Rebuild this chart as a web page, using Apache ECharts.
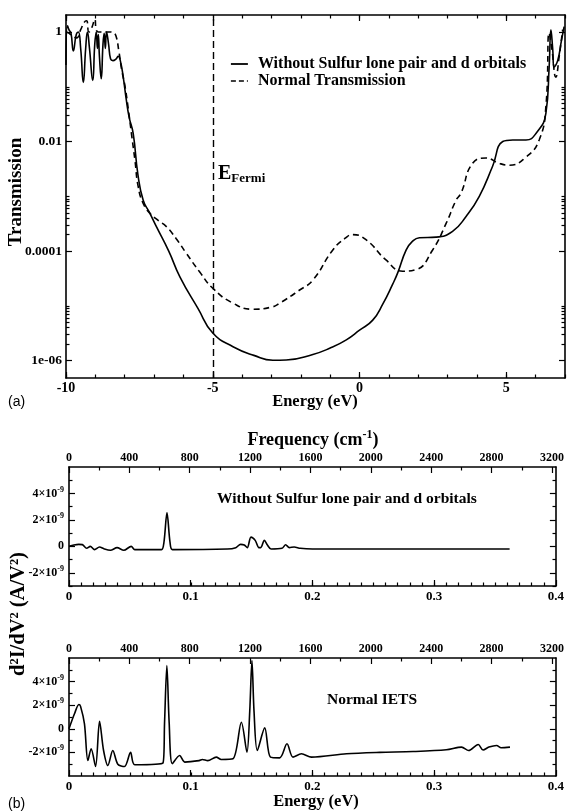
<!DOCTYPE html>
<html><head><meta charset="utf-8">
<script src="https://cdn.jsdelivr.net/npm/echarts@6/dist/echarts.min.js"></script>
<style>html,body{margin:0;padding:0;background:#fff}#c{width:567px;height:811px}</style>
</head><body><div id="c"></div>
<script>
// ---------- Panel (a): transmission vs energy ----------
const energyNoS = [-10.00,-9.95,-9.90,-9.83,-9.75,-9.65,-9.58,-9.50,-9.41,-9.33,-9.27,-9.20,-9.09,-9.02,-8.97,-8.93,-8.90,-8.86,-8.80,-8.74,-8.70,-8.66,-8.62,-8.55,-8.48,-8.40,-8.30,-8.22,-8.15,-8.05,-7.95,-7.85,-7.71,-7.55,-7.37,-7.15,-6.92,-6.50,-6.12,-5.50,-5.00,-4.31,-3.60,-2.95,-2.50,-1.59,-1.00,-0.45,0.00,0.45,0.80,1.13,1.30,1.59,1.80,2.04,2.61,3.17,3.63,4.08,4.53,4.88,5.22,5.67,6.01,6.35,6.46,6.52,6.58,6.63,6.75,6.88,6.97];
const transNoS = [0.25,1.3,1.1,0.95,0.45,0.9,1.0,0.5,0.12,0.5,1.0,0.5,0.13,0.6,1.0,0.5,0.9,0.35,0.14,0.6,0.95,0.5,1.0,0.6,0.32,0.30,0.32,0.36,0.30,0.15,0.06,0.028,0.014,2.5e-3,8.5e-4,5.0e-4,2.8e-4,1.0e-4,3.4e-5,8.9e-6,3.2e-6,1.8e-6,1.25e-6,1.02e-6,1.03e-6,1.3e-6,1.7e-6,2.4e-6,3.6e-6,5.5e-6,1.1e-5,2.5e-5,4.0e-5,1.05e-4,1.5e-4,1.75e-4,1.8e-4,2.3e-4,4.3e-4,1.0e-3,3.5e-3,0.010,0.0107,0.0107,0.014,0.033,0.23,1.1,0.5,0.23,0.3,0.7,1.25];
const energyNormal = [-10.00,-9.90,-9.80,-9.64,-9.50,-9.38,-9.30,-9.22,-9.12,-9.02,-8.97,-8.90,-8.50,-8.40,-8.30,-8.20,-8.10,-8.00,-7.88,-7.77,-7.65,-7.54,-7.37,-7.14,-6.85,-6.58,-6.25,-5.90,-5.45,-5.00,-4.31,-3.63,-3.00,-2.72,-2.04,-1.59,-0.91,-0.50,-0.23,0.23,0.90,1.47,1.93,2.49,2.95,3.29,3.46,3.85,4.31,4.76,5.10,5.67,6.12,6.35,6.46,6.55,6.69,6.80,6.92];
const transNormal = [1.0,0.95,0.85,0.78,1.1,1.5,1.6,1.0,1.2,1.7,1.1,1.0,1.0,0.98,0.85,0.45,0.2,0.11,0.04,0.014,4.5e-3,1.5e-3,7.4e-4,4.9e-4,3.6e-4,2.8e-4,1.7e-4,9.1e-5,4.2e-5,2.1e-5,1.12e-5,8.7e-6,9.5e-6,1.12e-5,1.95e-5,2.95e-5,1.05e-4,1.7e-4,2.0e-4,1.6e-4,6.9e-5,4.3e-5,4.6e-5,1.05e-4,3.2e-4,8.5e-4,1.15e-3,4.0e-3,5.0e-3,4.0e-3,3.7e-3,5.2e-3,0.0107,0.044,0.95,0.5,0.15,0.35,1.1];
const fermiEnergy = -5;
const energyTicksA = [-10,-5,0,5];
const transTicks = [1e-6,1e-4,1e-2,1];
const transTickLabels = {'-6':'1e-06','-4':'0.0001','-2':'0.01','0':'1'};

// ---------- Panel (b): IETS, values in units of 1e-9 A/V^2 ----------
const ietsEnergyNoS = [0,0.004,0.008,0.011,0.0145,0.0175,0.021,0.025,0.029,0.034,0.0395,0.045,0.0511,0.054,0.058,0.065,0.076,0.078,0.0805,0.083,0.085,0.13,0.137,0.141,0.144,0.1465,0.1495,0.153,0.156,0.1575,0.1605,0.163,0.166,0.175,0.178,0.181,0.185,0.19,0.2,0.362];
const ietsNoS = [0,0.1,0.15,0.13,-0.15,0,-0.25,-0.05,-0.2,-0.3,-0.1,-0.3,0,-0.25,-0.25,-0.25,-0.25,0.3,2.55,0.3,-0.25,-0.2,-0.1,0.15,0.1,-0.1,0.7,0.45,-0.1,-0.1,0.45,0.1,-0.2,-0.15,0.12,-0.1,-0.05,-0.15,-0.2,-0.2];
const ietsEnergyNormal = [0,0.0045,0.0081,0.0095,0.0127,0.0155,0.0182,0.0218,0.0251,0.0284,0.0319,0.036,0.0401,0.0456,0.0506,0.054,0.0772,0.0785,0.0804,0.0823,0.0849,0.0909,0.0951,0.1069,0.1096,0.114,0.121,0.125,0.1347,0.1416,0.1462,0.1485,0.1503,0.152,0.1547,0.1608,0.1655,0.1731,0.1791,0.184,0.191,0.1992,0.228,0.2553,0.2827,0.31,0.3225,0.3283,0.3362,0.3402,0.345,0.3513,0.355,0.3623];
const ietsNormal = [0,1.27,2.06,1.9,0.42,-2.69,-1.69,-3.19,0.64,-1.84,-3.11,-1.84,-3.0,-3.2,-2.0,-3.05,-2.9,0.5,5.36,0.5,-2.96,-2.26,-2.82,-2.7,-2.6,-2.7,-2.4,-2.6,-2.54,0.56,-1.98,1.5,5.79,1.5,-1.84,0.08,-2.4,-2.46,-1.27,-2.4,-2.12,-2.4,-2.12,-2.0,-1.93,-1.78,-1.55,-1.84,-1.33,-1.8,-1.55,-1.41,-1.6,-1.55];
const ietsMajorTicks = [-2,0,2,4];
const ietsMinorTicks = [-3,-1,1,3,5];
const ietsEnergyTicks = [0,0.1,0.2,0.3,0.4];
const freqTicks = [0,400,800,1200,1600,2000,2400,2800,3200];
const CM_PER_EV = 8065.54;

const FONT = '"Liberation Serif", "Times New Roman", serif';
const lbl = size => ({fontFamily: FONT, fontWeight: 'bold', fontSize: size, color: '#000'});
const zip = (a, b) => a.map((x, i) => [x, b[i]]);

function ax(o) {
  const a = {
    gridIndex: o.g, position: o.pos, type: o.type || 'value', min: o.min, max: o.max,
    axisLine: {show: !!o.line, onZero: false, lineStyle: {color: '#000', width: 1.6}},
    axisTick: {show: true, inside: true, length: o.len, customValues: o.ticks, lineStyle: {color: '#000', width: 1.2}},
    axisLabel: o.labels ? Object.assign({show: true, customValues: o.labels, margin: o.margin || 4, formatter: o.fmt || (v => String(v)), rich: o.rich}, lbl(o.fs || 12)) : {show: false},
    splitLine: {show: false}, splitArea: {show: false}
  };
  if (a.type === 'log') a.logBase = 10;
  return a;
}

const minorE = []; for (let i = -10; i <= 7; i++) minorE.push(i);
const minorLog = []; [1e-6, 1e-4, 1e-2].forEach(b => { for (let k = 2; k <= 10; k++) minorLog.push(b * k); });
const minorIetsE = []; for (let i = 1; i < 40; i++) minorIetsE.push(+(i / 100).toFixed(2));
const minorFreq = []; for (let f = 200; f < 3200; f += 400) minorFreq.push(f);

const supRich = {
  m: {fontFamily: FONT, fontWeight: 'bold', fontSize: 12, color: '#000', lineHeight: 16},
  e: {fontFamily: FONT, fontWeight: 'bold', fontSize: 8, color: '#000', lineHeight: 8, verticalAlign: 'top'}
};
const ietsFmt = v => v === 0 ? '{m|0}' : '{m|' + (v < 0 ? '-' : '') + Math.abs(v) + '×10}{e|-9}';
const freqMax = 0.4 * CM_PER_EV;

const grids = [
  {left: 66, top: 15, width: 499, height: 363},
  {left: 66, top: 15, width: 499, height: 363},
  {left: 69, top: 467, width: 487, height: 119},
  {left: 69, top: 467, width: 487, height: 119},
  {left: 69, top: 658, width: 487, height: 118},
  {left: 69, top: 658, width: 487, height: 118}
];
const TMIN = 4.83e-7, TMAX = 2.04;
const xAxes = [
  ax({g: 0, pos: 'bottom', min: -10, max: 7, line: 1, ticks: energyTicksA, labels: energyTicksA, len: 6, margin: 3, fs: 14}),
  ax({g: 0, pos: 'top', min: -10, max: 7, line: 1, ticks: energyTicksA, len: 6}),
  ax({g: 1, pos: 'bottom', min: -10, max: 7, ticks: minorE, len: 3.5}),
  ax({g: 1, pos: 'top', min: -10, max: 7, ticks: minorE, len: 3.5}),
  ax({g: 2, pos: 'bottom', min: 0, max: 0.4, line: 1, ticks: ietsEnergyTicks, labels: ietsEnergyTicks, len: 6, margin: 4, fs: 13}),
  ax({g: 2, pos: 'top', min: 0, max: freqMax, line: 1, ticks: freqTicks, labels: freqTicks, len: 6, margin: 3}),
  ax({g: 3, pos: 'bottom', min: 0, max: 0.4, ticks: minorIetsE, len: 3.5}),
  ax({g: 3, pos: 'top', min: 0, max: freqMax, ticks: minorFreq, len: 3.5}),
  ax({g: 4, pos: 'bottom', min: 0, max: 0.4, line: 1, ticks: ietsEnergyTicks, labels: ietsEnergyTicks, len: 6, margin: 4, fs: 13}),
  ax({g: 4, pos: 'top', min: 0, max: freqMax, line: 1, ticks: freqTicks, labels: freqTicks, len: 6, margin: 3}),
  ax({g: 5, pos: 'bottom', min: 0, max: 0.4, ticks: minorIetsE, len: 3.5}),
  ax({g: 5, pos: 'top', min: 0, max: freqMax, ticks: minorFreq, len: 3.5})
];
const yAxes = [
  ax({g: 0, pos: 'left', type: 'log', min: TMIN, max: TMAX, line: 1, ticks: transTicks, labels: transTicks, len: 6, margin: 4, fs: 13.5,
      fmt: v => transTickLabels[String(Math.round(Math.log10(v)))]}),
  ax({g: 0, pos: 'right', type: 'log', min: TMIN, max: TMAX, line: 1, ticks: transTicks, len: 6}),
  ax({g: 1, pos: 'left', type: 'log', min: TMIN, max: TMAX, ticks: minorLog, len: 3.5}),
  ax({g: 1, pos: 'right', type: 'log', min: TMIN, max: TMAX, ticks: minorLog, len: 3.5}),
  ax({g: 2, pos: 'left', min: -3, max: 6, line: 1, ticks: ietsMajorTicks, labels: ietsMajorTicks, len: 6, margin: 5, fmt: ietsFmt, rich: supRich}),
  ax({g: 2, pos: 'right', min: -3, max: 6, line: 1, ticks: ietsMajorTicks, len: 6}),
  ax({g: 3, pos: 'left', min: -3, max: 6, ticks: ietsMinorTicks, len: 3.5}),
  ax({g: 3, pos: 'right', min: -3, max: 6, ticks: ietsMinorTicks, len: 3.5}),
  ax({g: 4, pos: 'left', min: -4, max: 6, line: 1, ticks: ietsMajorTicks, labels: ietsMajorTicks, len: 6, margin: 5, fmt: ietsFmt, rich: supRich}),
  ax({g: 4, pos: 'right', min: -4, max: 6, line: 1, ticks: ietsMajorTicks, len: 6}),
  ax({g: 5, pos: 'left', min: -4, max: 6, ticks: ietsMinorTicks, len: 3.5}),
  ax({g: 5, pos: 'right', min: -4, max: 6, ticks: ietsMinorTicks, len: 3.5})
];

const NAME_A = 'Without Sulfur lone pair and d orbitals';
const NAME_B = 'Normal Transmission';
const line = (name, xi, data, dash, smooth, extra) => Object.assign({
  name, type: 'line', xAxisIndex: xi, yAxisIndex: xi, data, symbol: 'none', smooth,
  silent: true, animation: false, clip: true,
  lineStyle: {color: '#000', width: 1.6, type: dash || 'solid'}, itemStyle: {color: '#000'}
}, extra || {});

const series = [
  line(NAME_A, 0, zip(energyNoS, transNoS), 'solid', 0.5, {
    markLine: {silent: true, symbol: 'none', label: {show: false}, animation: false,
      lineStyle: {color: '#000', width: 1.4, type: [7, 4]}, data: [{xAxis: fermiEnergy}]}
  }),
  line(NAME_B, 0, zip(energyNormal, transNormal), [6, 4], 0.5),
  line('iets-nos', 4, zip(ietsEnergyNoS, ietsNoS), 'solid', 0.3),
  line('iets-normal', 8, zip(ietsEnergyNormal, ietsNormal), 'solid', 0.3)
];

const txt = (x, y, text, size, extra) => ({type: 'text', x, y, silent: true,
  style: Object.assign({text, fontFamily: FONT, fontWeight: 'bold', fontSize: size, fill: '#000', align: 'center', verticalAlign: 'middle'}, extra || {})});

const graphic = [
  Object.assign(txt(16, 192, 'Transmission', 19), {rotation: Math.PI / 2}),
  txt(315, 402, 'Energy (eV)', 16.5),
  txt(316, 802, 'Energy (eV)', 16.5),
  {type: 'text', x: 313, y: 440, silent: true, style: {
    text: '{a|Frequency (cm}{s|-1}{a|)}', align: 'center', verticalAlign: 'middle',
    rich: {a: {fontFamily: FONT, fontWeight: 'bold', fontSize: 18, fill: '#000', lineHeight: 22},
           s: {fontFamily: FONT, fontWeight: 'bold', fontSize: 12, fill: '#000', lineHeight: 12, verticalAlign: 'top'}}}},
  Object.assign(txt(19, 614, 'd²I/dV² (A/V²)', 20.5), {rotation: Math.PI / 2}),
  txt(8, 402, '(a)', 14, {fontFamily: '"Liberation Sans", Arial, sans-serif', fontWeight: 'normal', align: 'left'}),
  txt(8, 804, '(b)', 14, {fontFamily: '"Liberation Sans", Arial, sans-serif', fontWeight: 'normal', align: 'left'}),
  {type: 'text', x: 218, y: 174, silent: true, style: {
    text: '{e|E}{f|Fermi}', align: 'left', verticalAlign: 'middle',
    rich: {e: {fontFamily: FONT, fontWeight: 'bold', fontSize: 20, fill: '#000', lineHeight: 22},
           f: {fontFamily: FONT, fontWeight: 'bold', fontSize: 13, fill: '#000', lineHeight: 13, verticalAlign: 'bottom'}}}},
  txt(217, 499, NAME_A, 15.5, {align: 'left'}),
  txt(327, 700, 'Normal IETS', 15.5, {align: 'left'})
];

const chart = echarts.init(document.getElementById('c'), null, {renderer: 'canvas'});
chart.setOption({
  animation: false,
  backgroundColor: '#fff',
  grid: grids,
  xAxis: xAxes,
  yAxis: yAxes,
  legend: {
    data: [
      {name: NAME_A, lineStyle: {type: 'solid', width: 1.8}},
      {name: NAME_B, lineStyle: {type: [5, 3], width: 1.5}}
    ],
    left: 230, top: 56, padding: [0, 0, 0, 0], orient: 'vertical', itemWidth: 17, itemHeight: 10, itemGap: 1,
    selectedMode: false, itemStyle: {opacity: 0, borderWidth: 0},
    textStyle: {fontFamily: FONT, fontWeight: 'bold', fontSize: 16, lineHeight: 14, color: '#000', padding: [0, 0, 0, 5]}
  },
  series,
  graphic
});
</script></body></html>
